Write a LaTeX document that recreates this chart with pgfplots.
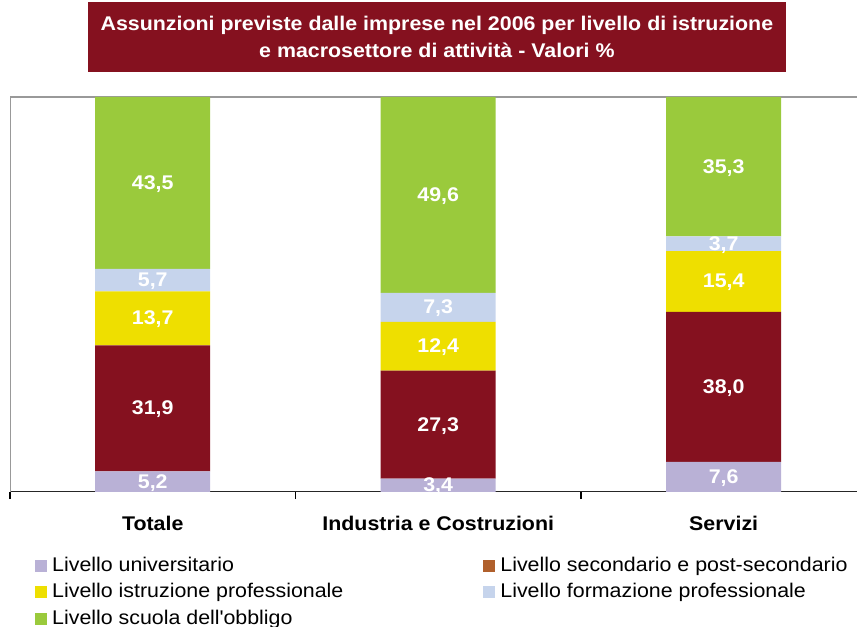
\documentclass[border=0pt]{standalone}
\usepackage{pgfplots}
\pgfplotsset{compat=1.18}
\usepackage{fontspec}
\setmainfont{Liberation Sans}[FakeStretch=1.08]

\definecolor{darkred}{HTML}{85111F}
\definecolor{lavender}{HTML}{B9B1D6}
\definecolor{yel}{HTML}{EEDF00}
\definecolor{lightblue}{HTML}{C6D4EC}
\definecolor{grn}{HTML}{9ACA3C}
\definecolor{legbrown}{HTML}{B0602C}

\begin{document}
\begin{tikzpicture}
\useasboundingbox (0,0) rectangle (857bp,627bp);
\begin{axis}[
    at={(10bp,135bp)}, anchor=south west,
    scale only axis,
    width=847bp, height=395bp,
    ybar stacked,
    bar width=115bp,
    xmin=-0.5, xmax=2.467,
    ymin=0, ymax=100,
    axis line style={draw=none},
    ytick=\empty,
    xtick={0,1,2},
    xticklabels={Totale, Industria e Costruzioni, Servizi},
    xtick pos=bottom,
    major tick length=0pt,
    xticklabel style={font=\fontsize{19.8bp}{22bp}\selectfont\bfseries,
        inner sep=0pt, yshift=-24bp},
    extra x ticks={-0.5,0.5,1.5},
    extra x tick labels={},
    extra x tick style={major tick length=7bp, tick align=outside,
        tick style={black, line width=1.2bp}},
    point meta=rawy,
    nodes near coords={\pgfmathprintnumber[fixed,fixed zerofill,precision=1,use comma,assume math mode=true]{\pgfplotspointmeta}},
    every node near coord/.append style={anchor=center, yshift=-1bp, text=white,
        font=\fontsize{19.8bp}{22bp}\selectfont\bfseries},
    title={Assunzioni previste dalle imprese nel 2006 per livello di istruzione\\e macrosettore di attività - Valori \%},
    title style={at={(0.504,1)}, anchor=center, yshift=54bp,
        fill=darkred, text=white, align=center,
        minimum width=698bp, minimum height=70bp, inner sep=0pt,
        font=\fontsize{19.8bp}{27bp}\selectfont\bfseries},
    legend columns=2,
    legend cell align=left,
    legend style={draw=none, fill=none, inner sep=0pt,
        at={(0.0295,0)}, anchor=north west, yshift=-64bp,
        column sep=5bp, row sep=7.5bp,
        nodes={inner sep=0pt, text height=15bp, text depth=4bp},
        font=\fontsize{19.8bp}{22bp}\selectfont},
    /tikz/every even column/.append style={column sep=140bp},
    legend image code/.code={\path[#1, draw=none] (0bp,-6bp) rectangle (12bp,6bp);},
]
\addplot[fill=lavender, draw=none] coordinates {(0,5.2) (1,3.4) (2,7.6)};
\addlegendentry{Livello universitario}
\addplot[fill=darkred, draw=none,
    legend image code/.code={\fill[legbrown] (0bp,-6bp) rectangle (12bp,6bp);}]
    coordinates {(0,31.9) (1,27.3) (2,38.0)};
\addlegendentry{Livello secondario e post-secondario}
\addplot[fill=yel, draw=none] coordinates {(0,13.7) (1,12.4) (2,15.4)};
\addlegendentry{Livello istruzione professionale}
\addplot[fill=lightblue, draw=none] coordinates {(0,5.7) (1,7.3) (2,3.7)};
\addlegendentry{Livello formazione professionale}
\addplot[fill=grn, draw=none] coordinates {(0,43.5) (1,49.6) (2,35.3)};
\addlegendentry{Livello scuola dell\textquotesingle obbligo}
% frame: grey on the left and top, dark base line
\draw[gray!80, line width=2bp] (rel axis cs:0,0) -- (rel axis cs:0,1) -- (rel axis cs:1,1);
\draw[black!85, line width=1.5bp] (rel axis cs:0,0) -- (rel axis cs:1,0);
\end{axis}
\end{tikzpicture}
\end{document}
